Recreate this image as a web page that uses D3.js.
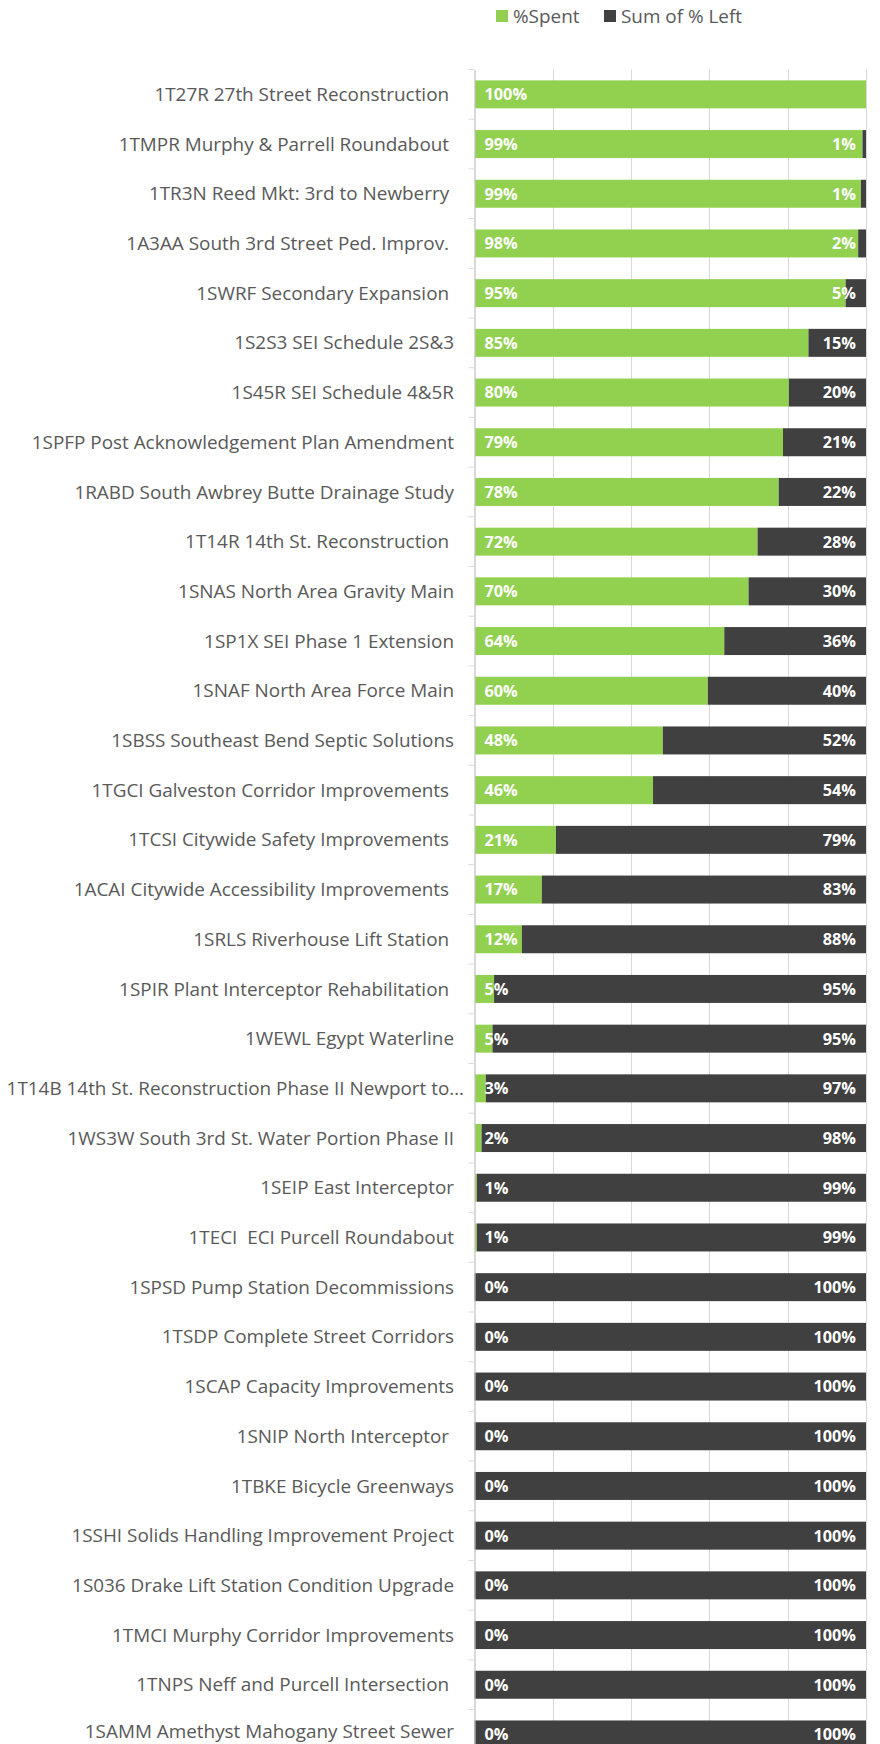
<!DOCTYPE html>
<html>
<head>
<meta charset="utf-8">
<script src="https://cdn.jsdelivr.net/npm/d3@7"></script>
<style>
  html, body { margin: 0; padding: 0; background: #fff; }
  svg { display: block; }
  text { white-space: pre; }
</style>
</head>
<body>
<svg id="chart" width="880" height="1744"></svg>
<script>
const categories = [
  "1T27R 27th Street Reconstruction ",
  "1TMPR Murphy & Parrell Roundabout ",
  "1TR3N Reed Mkt: 3rd to Newberry ",
  "1A3AA South 3rd Street Ped. Improv. ",
  "1SWRF Secondary Expansion ",
  "1S2S3 SEI Schedule 2S&3",
  "1S45R SEI Schedule 4&5R",
  "1SPFP Post Acknowledgement Plan Amendment",
  "1RABD South Awbrey Butte Drainage Study",
  "1T14R 14th St. Reconstruction ",
  "1SNAS North Area Gravity Main",
  "1SP1X SEI Phase 1 Extension",
  "1SNAF North Area Force Main",
  "1SBSS Southeast Bend Septic Solutions",
  "1TGCI Galveston Corridor Improvements ",
  "1TCSI Citywide Safety Improvements ",
  "1ACAI Citywide Accessibility Improvements ",
  "1SRLS Riverhouse Lift Station ",
  "1SPIR Plant Interceptor Rehabilitation ",
  "1WEWL Egypt Waterline",
  "1T14B 14th St. Reconstruction Phase II Newport to…",
  "1WS3W South 3rd St. Water Portion Phase II",
  "1SEIP East Interceptor",
  "1TECI  ECI Purcell Roundabout",
  "1SPSD Pump Station Decommissions",
  "1TSDP Complete Street Corridors",
  "1SCAP Capacity Improvements",
  "1SNIP North Interceptor ",
  "1TBKE Bicycle Greenways",
  "1SSHI Solids Handling Improvement Project",
  "1S036 Drake Lift Station Condition Upgrade",
  "1TMCI Murphy Corridor Improvements",
  "1TNPS Neff and Purcell Intersection ",
  "1SAMM Amethyst Mahogany Street Sewer"
];
const spent = [
  1.00, 0.991, 0.987, 0.980, 0.948, 0.853, 0.803, 0.788, 0.777, 0.723,
  0.700, 0.638, 0.596, 0.481, 0.456, 0.208, 0.172, 0.121, 0.050, 0.046,
  0.029, 0.018, 0.006, 0.006, 0, 0, 0, 0, 0, 0,
  0, 0, 0, 0
];
const left = spent.map(v => 1 - v);
const seriesNames = ["%Spent", "Sum of % Left"];
const seriesColors = ["#92D050", "#404040"];
const xTicks = [0, 0.2, 0.4, 0.6, 0.8, 1.0];

const svg = d3.select("#chart");
const fontFamily = "'Open Sans', 'DejaVu Sans', sans-serif";
const labelSize = 18.9;
const valueSize = 16.3;

const x = d3.scaleLinear().domain([0, 1]).range([474.5, 866]);
const step = 49.7;
const y = d3.scaleBand()
  .domain(categories)
  .range([69.5, 69.5 + step * categories.length])
  .paddingInner(0.437)
  .paddingOuter(0.2185);

// gridlines
svg.append("g")
  .selectAll("line")
  .data(xTicks.slice(1))
  .join("line")
  .attr("x1", d => Math.round(x(d)) + 0.5)
  .attr("x2", d => Math.round(x(d)) + 0.5)
  .attr("y1", y.range()[0])
  .attr("y2", y.range()[1])
  .attr("stroke", "#d9d9d9")
  .attr("stroke-width", 1);

// bars
const rows = categories.map((c, i) => ({ c, s: spent[i], l: left[i] }));
const g = svg.append("g");
g.selectAll("rect.spent")
  .data(rows)
  .join("rect")
  .attr("class", "spent")
  .attr("x", x(0) + 0.5)
  .attr("y", d => y(d.c))
  .attr("width", d => Math.max(0, x(d.s) - x(0) - 0.5))
  .attr("height", y.bandwidth())
  .attr("fill", seriesColors[0]);
g.selectAll("rect.left")
  .data(rows)
  .join("rect")
  .attr("class", "left")
  .attr("x", d => x(d.s))
  .attr("y", d => y(d.c))
  .attr("width", d => x(d.s + d.l) - x(d.s))
  .attr("height", y.bandwidth())
  .attr("fill", seriesColors[1]);

// axis (category)
const yAxis = d3.axisLeft(y).tickSize(0).tickFormat("");
const axisG = svg.append("g").attr("transform", `translate(${x(0)},0)`).call(yAxis);
axisG.select(".domain").attr("stroke", "#bfbfbf").attr("stroke-width", 1.2);
// tick marks at band boundaries
svg.append("g")
  .selectAll("line")
  .data(d3.range(categories.length + 1))
  .join("line")
  .attr("x1", x(0) - 6)
  .attr("x2", x(0))
  .attr("y1", i => y.range()[0] + i * y.step())
  .attr("y2", i => y.range()[0] + i * y.step())
  .attr("stroke", "#d9d9d9");

// category labels
svg.append("g")
  .selectAll("text")
  .data(categories)
  .join("text")
  .attr("x", d => d.endsWith("…") ? 464 : 454)
  .attr("y", d => Math.min(y(d) + y.bandwidth() / 2, 1731))
  .attr("dy", "0.35em")
  .attr("text-anchor", "end")
  .attr("font-family", fontFamily)
  .attr("font-size", labelSize)
  .attr("fill", "#595959")
  .text(d => d);

// data labels
const pct = d3.format(".0%");
g.selectAll("text.sl")
  .data(rows)
  .join("text")
  .attr("class", "sl")
  .attr("x", x(0) + 10)
  .attr("y", d => y(d.c) + y.bandwidth() / 2)
  .attr("dy", "0.36em")
  .attr("font-family", fontFamily)
  .attr("font-weight", "bold")
  .attr("font-size", valueSize)
  .attr("fill", "#ffffff")
  .text(d => pct(d.s));
g.selectAll("text.ll")
  .data(rows.filter(d => d.l >= 0.005))
  .join("text")
  .attr("class", "ll")
  .attr("x", d => x(d.s + d.l) - 10)
  .attr("y", d => y(d.c) + y.bandwidth() / 2)
  .attr("dy", "0.36em")
  .attr("text-anchor", "end")
  .attr("font-family", fontFamily)
  .attr("font-weight", "bold")
  .attr("font-size", valueSize)
  .attr("fill", "#ffffff")
  .text(d => pct(d.l));

// legend
const legendX = [496, 604];
const lg = svg.append("g");
seriesNames.forEach((name, i) => {
  lg.append("rect")
    .attr("x", legendX[i])
    .attr("y", 10)
    .attr("width", 12)
    .attr("height", 12)
    .attr("fill", seriesColors[i]);
  lg.append("text")
    .attr("x", legendX[i] + 17)
    .attr("y", 16)
    .attr("dy", "0.35em")
    .attr("font-family", fontFamily)
    .attr("font-size", labelSize)
    .attr("fill", "#595959")
    .text(name);
});
</script>
</body>
</html>
